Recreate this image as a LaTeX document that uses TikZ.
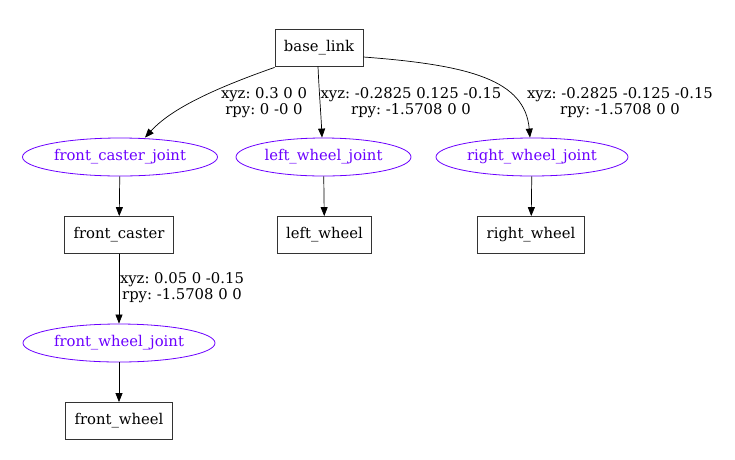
\documentclass[tikz,border=0pt]{standalone}
\usepackage{fontspec}
\setmainfont{DejaVu Serif}
\usetikzlibrary{arrows.meta,shapes.geometric}
\definecolor{cjoint}{HTML}{6B00FF}
\definecolor{clink}{HTML}{333333}

\begin{document}
\frenchspacing
\begin{tikzpicture}[
  x=1pt, y=-1pt,
  font=\fontsize{14.8}{16}\selectfont,
  link/.style={draw=clink, line width=0.8pt, minimum height=37pt, inner xsep=9pt},
  joint/.style={ellipse, draw=cjoint, text=cjoint, line width=0.8pt, minimum height=38pt, inner xsep=0pt},
  edge/.style={-{Triangle[length=9pt, width=7pt]}, line width=0.7pt},
  lbl/.style={align=center, inner sep=0pt, font=\fontsize{14.8}{16}\selectfont},
]
\useasboundingbox (0,0) rectangle (735,459);

% ------------------------------------------------------------ links
\node[link] (base) at (319,47.5) {base\_link};
\node[link] (caster) at (119,235) {front\_caster};
\node[link] (lwheel) at (324.5,235) {left\_wheel};
\node[link] (rwheel) at (531,235) {right\_wheel};
\node[link] (fwheel) at (119,421) {front\_wheel};

% ------------------------------------------------------------ joints
\node[joint, minimum width=195pt] (casterj) at (120,157) {front\_caster\_joint};
\node[joint, minimum width=175pt] (lwheelj) at (323.5,157) {left\_wheel\_joint};
\node[joint, minimum width=192pt] (rwheelj) at (532,157) {right\_wheel\_joint};
\node[joint, minimum width=192pt] (fwheelj) at (119,343) {front\_wheel\_joint};

% ------------------------------------------------------------ edges
\draw[edge] (base.south west) ++(0,1) .. controls (210,90) and (170,110) .. (casterj.north -| 145,0);
\draw[edge] (base.south -| 318,0) .. controls (319,90) and (321,115) .. (lwheelj.north -| 322,0);
\draw[edge] (base.east |- 0,57) .. controls (470,65) and (525,80) .. (rwheelj.north -| 530,0);
\draw[edge] (casterj) -- (caster);
\draw[edge] (lwheelj) -- (lwheel);
\draw[edge] (rwheelj) -- (rwheel);
\draw[edge] (caster) -- (fwheelj);
\draw[edge] (fwheelj) -- (fwheel);

% ------------------------------------------------------------ origins
\node[lbl] (casterxyz) at (264,103) {xyz: 0.3 0 0\\ rpy: 0 -0 0};
\node[lbl] (lwheelxyz) at (411,103) {xyz: -0.2825 0.125 -0.15\\ rpy: -1.5708 0 0};
\node[lbl] (rwheelxyz) at (620,103) {xyz: -0.2825 -0.125 -0.15\\ rpy: -1.5708 0 0};
\node[lbl] (fwheelxyz) at (182,288) {xyz: 0.05 0 -0.15\\ rpy: -1.5708 0 0};

\end{tikzpicture}
\end{document}
